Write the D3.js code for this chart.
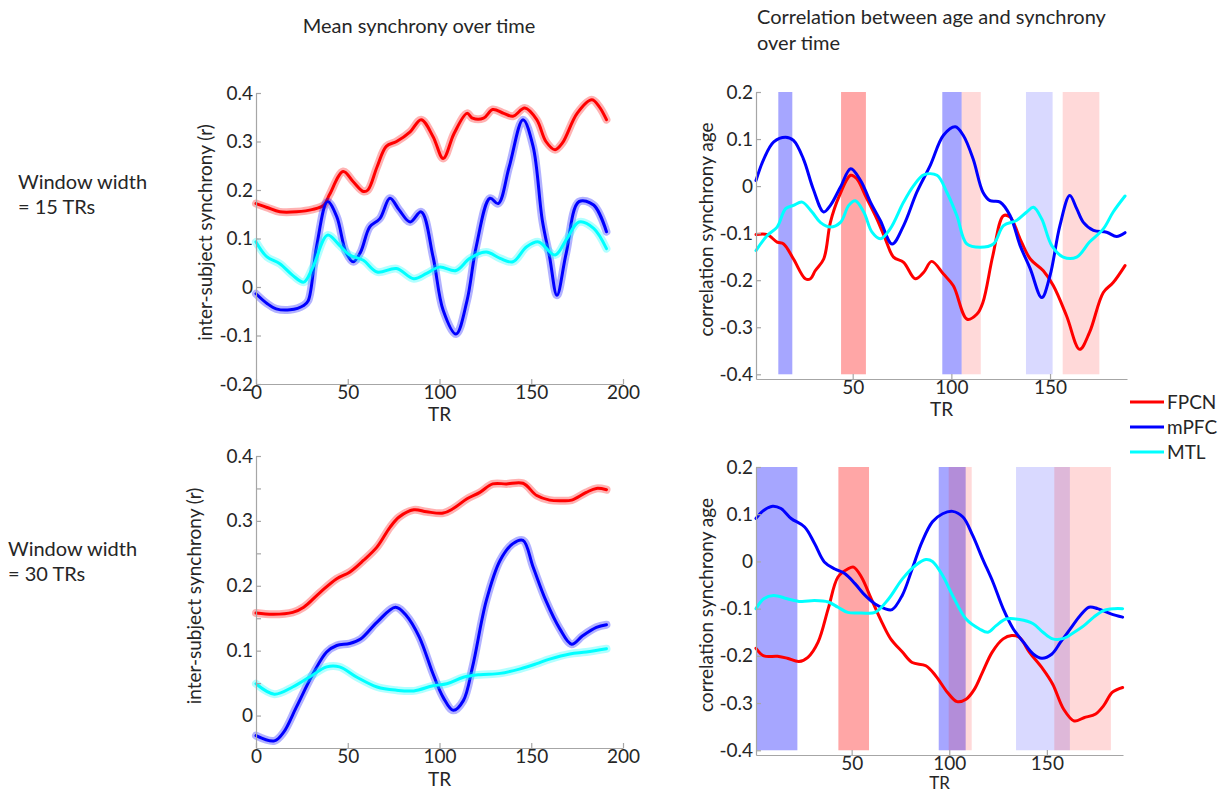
<!DOCTYPE html>
<html>
<head>
<meta charset="utf-8">
<script src="https://cdn.jsdelivr.net/npm/d3@7"></script>
<style>
  html, body { margin: 0; padding: 0; background: #fff; }
  svg text { font-family: Lato, "Open Sans", sans-serif; fill: #262626; }
</style>
</head>
<body>
<svg id="chart" width="1227" height="792"></svg>
<script>
// ---- Data: [TR, value] samples ----

// Mean synchrony, window 15 TRs
const meanFpcn15 = [[0,0.172],[6,0.164],[13,0.155],[22,0.155],[31,0.16],[37,0.169],[40,0.19],[47.5,0.238],[53,0.217],[58.5,0.197],[61,0.2],[66,0.248],[71,0.29],[76.6,0.3],[84,0.32],[90,0.345],[96.5,0.31],[102,0.265],[108,0.317],[115,0.358],[118,0.348],[124,0.348],[129,0.366],[135,0.358],[140,0.352],[146.5,0.369],[153,0.345],[158,0.3],[163,0.283],[167,0.297],[175,0.358],[183,0.386],[187,0.372],[191,0.345]]
const meanMpfc15 = [[0,-0.014],[6,-0.034],[11,-0.045],[18.5,-0.047],[26,-0.038],[28.5,-0.028],[33,0.083],[39,0.176],[44,0.145],[49,0.072],[53,0.052],[57,0.072],[62,0.124],[67.5,0.141],[73,0.183],[78,0.159],[84,0.134],[90,0.155],[96.5,0.062],[102,-0.048],[109,-0.097],[115,-0.028],[120,0.083],[127.5,0.183],[132,0.172],[138,0.248],[145.5,0.345],[151,0.29],[156,0.138],[160,0.062],[164,-0.017],[169,0.069],[176,0.176],[184,0.169],[191,0.114]]
const meanMtl15 = [[0,0.093],[6,0.062],[13,0.048],[20,0.024],[26,0.01],[31,0.041],[39,0.107],[45.5,0.086],[51,0.066],[58.5,0.055],[66,0.031],[76.6,0.038],[86,0.017],[93,0.028],[100,0.041],[109,0.034],[116.5,0.059],[125.5,0.072],[133,0.059],[140,0.052],[147.5,0.083],[154,0.093],[163,0.066],[169,0.097],[176,0.134],[184,0.121],[191,0.079]]

// Mean synchrony, window 30 TRs
const meanFpcn30 = [[0,0.158],[9.4,0.156],[20,0.159],[26,0.167],[35,0.19],[44,0.211],[51,0.221],[58.5,0.239],[66,0.26],[73,0.29],[78,0.306],[86,0.317],[93,0.314],[102,0.312],[107.5,0.319],[115,0.334],[122,0.344],[129,0.357],[136.5,0.357],[145.5,0.358],[153,0.339],[160,0.332],[167,0.331],[172,0.332],[180,0.344],[185.5,0.35],[191,0.348]]
const meanMpfc30 = [[0,-0.031],[10,-0.039],[15,-0.026],[22,0.013],[31,0.064],[38.5,0.098],[44,0.108],[51,0.111],[57,0.118],[66,0.144],[76,0.167],[82,0.154],[89,0.121],[96.5,0.064],[102,0.028],[107.5,0.008],[113,0.023],[118,0.075],[125.5,0.177],[133,0.239],[140,0.265],[145.5,0.27],[151,0.229],[158,0.177],[165.5,0.134],[172,0.11],[178,0.123],[185.5,0.136],[191,0.14]]
const meanMtl30 = [[0,0.049],[10,0.033],[20,0.044],[29,0.059],[38.5,0.075],[45.5,0.075],[55,0.059],[66,0.044],[76.6,0.039],[86,0.038],[96.5,0.046],[104,0.049],[113,0.059],[122,0.063],[133,0.065],[144,0.072],[153,0.08],[160,0.087],[171,0.095],[180,0.098],[191,0.103]]

// Correlation with age, window 15 TRs
const ageFpcn15 = [[1,-0.103],[6.7,-0.103],[11.7,-0.119],[15,-0.123],[20,-0.155],[26,-0.197],[28.6,-0.197],[31,-0.18],[35.3,-0.155],[38.7,-0.077],[43,-0.023],[49,0.023],[52,0.016],[56.4,-0.02],[62.3,-0.07],[66.5,-0.112],[70.7,-0.151],[75.8,-0.162],[81.7,-0.197],[86,-0.183],[90,-0.16],[96,-0.187],[101,-0.212],[108,-0.283],[113,-0.272],[116,-0.247],[121,-0.148],[126.4,-0.063],[129.8,-0.066],[134.8,-0.112],[140,-0.155],[146.6,-0.18],[151.7,-0.212],[158.4,-0.276],[165,-0.347],[170,-0.311],[177,-0.226],[182,-0.205],[188,-0.169]]
const ageMpfc15 = [[1,0.012],[5,0.058],[10,0.094],[16,0.104],[20,0.097],[25,0.058],[30,-0.006],[35.3,-0.055],[38.7,-0.041],[43.8,-0.002],[49,0.037],[54,0.012],[59,-0.034],[64,-0.073],[70,-0.123],[75.8,-0.084],[82.5,-0.013],[89.3,0.044],[96,0.108],[102,0.126],[106,0.108],[111,0.058],[116,-0.013],[119.6,-0.031],[124.7,-0.034],[129.8,-0.063],[134.8,-0.126],[140,-0.176],[145.8,-0.237],[150,-0.19],[155,-0.084],[160,-0.02],[163.5,-0.048],[166.9,-0.077],[172,-0.094],[178.7,-0.098],[183.7,-0.107],[188,-0.099]]
const ageMtl15 = [[1,-0.137],[6.7,-0.105],[11.7,-0.087],[16,-0.048],[20,-0.041],[24.4,-0.034],[29.4,-0.055],[33.6,-0.077],[38.7,-0.087],[43.8,-0.077],[48,-0.041],[51.3,-0.031],[55.6,-0.055],[59.8,-0.098],[64,-0.112],[69,-0.091],[75.8,-0.034],[80.9,0.001],[86,0.024],[92.7,0.023],[97.7,-0.013],[102.8,-0.063],[107.8,-0.123],[114.6,-0.13],[121.3,-0.123],[126.4,-0.084],[133,-0.073],[138.2,-0.055],[141.6,-0.045],[145.8,-0.07],[150.8,-0.126],[156.7,-0.151],[163.5,-0.151],[170,-0.119],[177,-0.091],[182,-0.055],[188,-0.021]]

// Correlation with age, window 30 TRs
const ageFpcn30 = [[1,-0.184],[5,-0.2],[12,-0.201],[17,-0.205],[23,-0.212],[27.6,-0.203],[32.8,-0.171],[38,-0.1],[43,-0.033],[48,-0.016],[51,-0.012],[55,-0.033],[60,-0.079],[65.5,-0.129],[70,-0.164],[76,-0.192],[81,-0.214],[88,-0.221],[93,-0.242],[99,-0.277],[104,-0.297],[108.6,-0.292],[113,-0.27],[117,-0.235],[122,-0.192],[127.6,-0.164],[132,-0.157],[136,-0.161],[141,-0.192],[148,-0.228],[153,-0.26],[158.6,-0.313],[164,-0.338],[169,-0.331],[175,-0.323],[179,-0.306],[183.6,-0.277],[188.8,-0.267]]
const ageMpfc30 = [[1,0.091],[4.3,0.106],[9.5,0.117],[13.8,0.112],[19,0.091],[25.9,0.073],[31,0.038],[36,-0.001],[41.4,-0.016],[46.6,-0.026],[51.7,-0.047],[56.9,-0.072],[62,-0.09],[67,-0.1],[70.7,-0.102],[75.9,-0.072],[81,-0.016],[86,0.041],[91.4,0.084],[96.6,0.101],[101.7,0.106],[107,0.094],[112,0.055],[117,0.006],[122.4,-0.044],[127.6,-0.1],[132.8,-0.143],[138,-0.171],[143,-0.196],[147.4,-0.205],[152.6,-0.196],[157,-0.171],[162,-0.143],[167,-0.115],[171.6,-0.097],[176,-0.1],[182.8,-0.111],[188.8,-0.118]]
const ageMtl30 = [[1,-0.1],[5,-0.079],[10,-0.072],[17,-0.079],[24,-0.085],[31,-0.083],[38,-0.086],[43,-0.097],[48,-0.108],[55,-0.109],[62,-0.108],[69,-0.079],[76,-0.037],[82.8,-0.008],[88,0.004],[91.4,0],[96.6,-0.03],[101.7,-0.072],[108.6,-0.122],[115.5,-0.143],[119.8,-0.15],[124,-0.136],[129,-0.122],[136,-0.123],[143,-0.132],[148,-0.15],[153,-0.164],[158.6,-0.163],[164,-0.15],[169,-0.136],[174,-0.118],[179,-0.104],[184.5,-0.1],[188.8,-0.1]]

// Significant windows: [startTR, endTR, network, level]
const sigWindows15 = [[12.3,19.4,'mPFC','strong'],[44.1,56.7,'FPCN','strong'],[95.4,105.2,'mPFC','strong'],[105.2,114.9,'FPCN','weak'],[137.8,151.3,'mPFC','weak'],[156.4,175,'FPCN','weak']]
const sigWindows30 = [[1,22.2,'mPFC','strong'],[43.2,58.9,'FPCN','strong'],[94.6,108.4,'mPFC','strong'],[99.7,111.5,'FPCN','weak'],[134.2,161.8,'mPFC','weak'],[153.8,182.8,'FPCN','weak']]

const networks = ['FPCN', 'mPFC', 'MTL']
const meanTicksY = [-0.2, -0.1, 0, 0.1, 0.2, 0.3, 0.4]
const meanTicksY30 = [0, 0.05, 0.1, 0.15, 0.2, 0.25, 0.3, 0.35, 0.4]
const ageTicksY = [-0.4, -0.3, -0.2, -0.1, 0, 0.1, 0.2]
const meanTicksX = [0, 50, 100, 150, 200]
const ageTicksX = [50, 100, 150]

// ---- Styles ----
const colors = { FPCN: '#ff0000', mPFC: '#0000ff', MTL: '#00ffff' }
const barAlpha = { strong: 0.35, weak: 0.15 }
const axisColor = '#a6a6a6'
const FONT = 19

const svg = d3.select('#chart')

function fmtTick(v) {
  if (Math.abs(v) < 1e-9) return '0'
  return v.toFixed(1)
}

function styleAxis(g) {
  g.select('.domain').attr('stroke', axisColor).attr('stroke-width', 1.2)
  g.selectAll('.tick line').attr('stroke', axisColor).attr('stroke-width', 1.2)
  g.selectAll('.tick text')
    .attr('font-size', FONT + 'px')
    .attr('font-family', 'Lato, sans-serif')
    .attr('fill', '#262626')
}

function drawPanel(p) {
  const x = d3.scaleLinear().domain(p.xDomain).range(p.xRange)
  const y = d3.scaleLinear().domain(p.yDomain).range(p.yRange)
  const g = svg.append('g')

  // shaded significant windows
  if (p.windows) {
    g.append('g').selectAll('rect')
      .data(p.windows)
      .join('rect')
      .attr('x', d => x(d[0]))
      .attr('width', d => x(d[1]) - x(d[0]))
      .attr('y', y(0.2))
      .attr('height', y(-0.4) - y(0.2))
      .attr('fill', d => colors[d[2]])
      .attr('fill-opacity', d => barAlpha[d[3]])
  }

  const line = d3.line()
    .x(d => x(d[0]))
    .y(d => y(d[1]))
    .curve(d3.curveCatmullRom.alpha(0.5))

  p.series.forEach((s, i) => {
    const c = colors[networks[i]]
    if (p.band) {
      g.append('path').datum(s).attr('d', line)
        .attr('fill', 'none').attr('stroke', c)
        .attr('stroke-opacity', 0.3).attr('stroke-width', 8)
        .attr('stroke-linejoin', 'round').attr('stroke-linecap', 'round')
    }
    g.append('path').datum(s).attr('d', line)
      .attr('fill', 'none').attr('stroke', c)
      .attr('stroke-width', 3)
      .attr('stroke-linejoin', 'round').attr('stroke-linecap', 'round')
  })

  // axes (MATLAB style: ticks inward, box off)
  const yAxis = d3.axisLeft(y)
    .tickValues(p.yTicks)
    .tickFormat(v => (Math.round(v * 100) % 10 === 0 ? fmtTick(v) : ''))
    .tickSizeInner(-5).tickSizeOuter(0).tickPadding(3)
  g.append('g')
    .attr('transform', `translate(${p.xRange[0]},0)`)
    .call(yAxis)
    .call(styleAxis)

  const xAxis = d3.axisBottom(x)
    .tickValues(p.xTicks)
    .tickFormat(d3.format('d'))
    .tickSizeInner(-5).tickSizeOuter(0).tickPadding(1)
  g.append('g')
    .attr('transform', `translate(0,${p.yRange[0]})`)
    .call(xAxis)
    .call(styleAxis)

  // axis labels
  g.append('text')
    .attr('transform', `translate(${p.yLabelX},${(p.yRange[0] + p.yRange[1]) / 2 - 6}) rotate(-90)`)
    .attr('text-anchor', 'middle')
    .attr('font-size', FONT + 'px')
    .text(p.yLabel)

  g.append('text')
    .attr('x', (p.xRange[0] + p.xRange[1]) / 2)
    .attr('y', p.trY)
    .attr('text-anchor', 'middle')
    .attr('font-size', (p.trFont || FONT) + 'px')
    .text('TR')
}

drawPanel({
  xDomain: [0, 200], xRange: [256, 623],
  yDomain: [-0.2, 0.4], yRange: [384, 93],
  yTicks: meanTicksY, xTicks: meanTicksX,
  series: [meanFpcn15, meanMpfc15, meanMtl15], band: true,
  yLabel: 'inter-subject synchrony (r)', yLabelX: 212, trY: 421
})

drawPanel({
  xDomain: [1, 189], xRange: [756, 1127],
  yDomain: [-0.41, 0.2], yRange: [379, 92],
  yTicks: ageTicksY, xTicks: ageTicksX,
  series: [ageFpcn15, ageMpfc15, ageMtl15], windows: sigWindows15,
  yLabel: 'correlation synchrony age', yLabelX: 713, trY: 416
})

drawPanel({
  xDomain: [0, 200], xRange: [256, 623],
  yDomain: [-0.05, 0.4], yRange: [748, 456],
  yTicks: meanTicksY30, xTicks: meanTicksX,
  series: [meanFpcn30, meanMpfc30, meanMtl30], band: true,
  yLabel: 'inter-subject synchrony (r)', yLabelX: 201, trY: 786
})

drawPanel({
  xDomain: [1, 189], xRange: [756, 1123],
  yDomain: [-0.41, 0.2], yRange: [755, 467],
  yTicks: ageTicksY, xTicks: ageTicksX,
  series: [ageFpcn30, ageMpfc30, ageMtl30], windows: sigWindows30,
  yLabel: 'correlation synchrony age', yLabelX: 713, trY: 789, trFont: 17
})

// ---- Titles ----
svg.append('text').attr('x', 419).attr('y', 33)
  .attr('text-anchor', 'middle').attr('font-size', '20px')
  .text('Mean synchrony over time')
svg.append('text').attr('x', 757).attr('y', 24)
  .attr('font-size', '20px')
  .text('Correlation between age and synchrony')
svg.append('text').attr('x', 757).attr('y', 50)
  .attr('font-size', '20px')
  .text('over time')

// ---- Row labels ----
const rowLabels = [
  { x: 18, y: 189, lines: ['Window width', '= 15 TRs'] },
  { x: 8, y: 556, lines: ['Window width', '= 30 TRs'] }
]
rowLabels.forEach(r => {
  r.lines.forEach((t, i) => {
    svg.append('text').attr('x', r.x).attr('y', r.y + i * 25)
      .attr('font-size', '20px').text(t)
  })
})

// ---- Legend ----
const legend = svg.append('g').attr('transform', 'translate(1130,402)')
networks.forEach((n, i) => {
  const row = legend.append('g').attr('transform', `translate(0,${i * 25})`)
  row.append('line').attr('x1', 0).attr('x2', 34).attr('y1', 0).attr('y2', 0)
    .attr('stroke', colors[n]).attr('stroke-width', 3)
  row.append('text').attr('x', 37).attr('y', 7)
    .attr('font-size', FONT + 'px').text(n)
})
</script>
</body>
</html>
